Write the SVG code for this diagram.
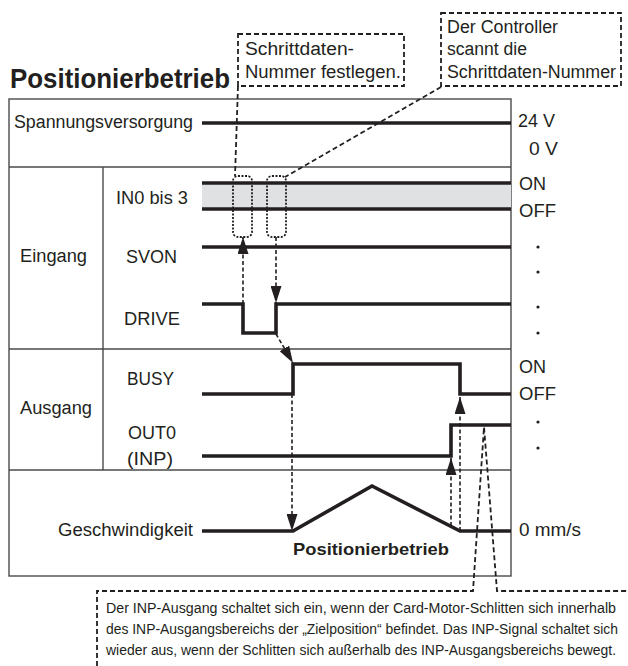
<svg xmlns="http://www.w3.org/2000/svg" width="628" height="666" viewBox="0 0 628 666">
<defs>
<marker id="ah" markerUnits="userSpaceOnUse" markerWidth="17" markerHeight="11" refX="17" refY="5.5" orient="auto">
<path d="M0,0 L17,5.5 L0,11 z" fill="#231f20"/>
</marker>
<style>
text{font-family:"Liberation Sans",Arial,sans-serif;font-size:18px;fill:#231f20}
.b{font-weight:bold}
.frame{stroke:#4a4a4a;stroke-width:1.4;fill:none}
.sig{stroke:#231f20;stroke-width:3.6;fill:none;stroke-linejoin:miter}
.dash{stroke:#231f20;stroke-width:1.8;fill:none;stroke-dasharray:5,3}
.dot{stroke:#231f20;stroke-width:1.8;fill:none;stroke-dasharray:2,1.5}
.arr{stroke:#231f20;stroke-width:1.6;fill:none;stroke-dasharray:4,2.5;marker-end:url(#ah)}
.small{font-size:14px}
</style>
</defs>
<text class="b" x="10" y="88" style="font-size:28px" textLength="220" lengthAdjust="spacingAndGlyphs">Positionierbetrieb</text>

<g id="frame">
<rect class="frame" x="9" y="99" width="502" height="477"/>
<line class="frame" x1="9" y1="167" x2="511" y2="167"/>
<line class="frame" x1="9" y1="349" x2="511" y2="349"/>
<line class="frame" x1="9" y1="470" x2="511" y2="470"/>
<line class="frame" x1="103" y1="167" x2="103" y2="470"/>
</g>

<g id="power">
<text x="14" y="128" textLength="179" lengthAdjust="spacingAndGlyphs">Spannungsversorgung</text>
<line class="sig" x1="202" y1="123" x2="511" y2="123"/>
<text x="518" y="127" textLength="37" lengthAdjust="spacingAndGlyphs">24 V</text>
<text x="529" y="155" textLength="29" lengthAdjust="spacingAndGlyphs">0 V</text>
</g>

<g id="eingang">
<text x="20" y="262" textLength="67" lengthAdjust="spacingAndGlyphs">Eingang</text>
</g>

<g id="in0">
<text x="116" y="204" textLength="72" lengthAdjust="spacingAndGlyphs">IN0 bis 3</text>
<rect x="202" y="183" width="309" height="26" fill="#e0e1e3"/>
<line class="sig" x1="202" y1="183" x2="511" y2="183"/>
<line class="sig" x1="202" y1="209" x2="511" y2="209"/>
<text x="519" y="190" textLength="27" lengthAdjust="spacingAndGlyphs">ON</text>
<text x="519" y="217" textLength="37" lengthAdjust="spacingAndGlyphs">OFF</text>
</g>

<g id="svon">
<text x="126" y="263" textLength="51" lengthAdjust="spacingAndGlyphs">SVON</text>
<line class="sig" x1="202" y1="247" x2="511" y2="247"/>
<circle cx="538" cy="247" r="1.6" fill="#231f20"/>
<circle cx="538" cy="272" r="1.6" fill="#231f20"/>
</g>

<g id="drive">
<text x="124" y="325" textLength="56" lengthAdjust="spacingAndGlyphs">DRIVE</text>
<polyline class="sig" points="202,304 243,304 243,333 276,333 276,304 511,304"/>
<circle cx="538" cy="307" r="1.6" fill="#231f20"/>
<circle cx="538" cy="333" r="1.6" fill="#231f20"/>
</g>

<g id="ausgang">
<text x="20" y="414" textLength="72" lengthAdjust="spacingAndGlyphs">Ausgang</text>
</g>

<g id="busy">
<text x="127" y="385" textLength="47" lengthAdjust="spacingAndGlyphs">BUSY</text>
<polyline class="sig" points="202,394 293,394 293,364 460,364 460,394 511,394"/>
<text x="519" y="373" textLength="27" lengthAdjust="spacingAndGlyphs">ON</text>
<text x="519" y="400" textLength="37" lengthAdjust="spacingAndGlyphs">OFF</text>
</g>

<g id="out0">
<text x="128" y="439" textLength="48" lengthAdjust="spacingAndGlyphs">OUT0</text>
<text x="127" y="465" textLength="46" lengthAdjust="spacingAndGlyphs">(INP)</text>
<polyline class="sig" points="202,456 451,456 451,425 511,425"/>
<circle cx="538" cy="422" r="1.6" fill="#231f20"/>
<circle cx="538" cy="448" r="1.6" fill="#231f20"/>
</g>

<g id="speed">
<text x="58" y="536" textLength="135" lengthAdjust="spacingAndGlyphs">Geschwindigkeit</text>
<polyline class="sig" points="202,531 293,531 372,486 460,531 511,531"/>
<text x="519" y="536" textLength="62" lengthAdjust="spacingAndGlyphs">0 mm/s</text>
<text class="b" x="293" y="555" style="font-size:17px" textLength="156" lengthAdjust="spacingAndGlyphs">Positionierbetrieb</text>
</g>

<g id="callout1">
<rect class="dash" x="238" y="34" width="166" height="52"/>
<text x="245" y="55" textLength="109" lengthAdjust="spacingAndGlyphs">Schrittdaten-</text>
<text x="245" y="78" textLength="156" lengthAdjust="spacingAndGlyphs">Nummer festlegen.</text>
</g>

<g id="callout2">
<rect class="dash" x="441" y="13" width="180" height="73"/>
<text x="447" y="33" textLength="111" lengthAdjust="spacingAndGlyphs">Der Controller</text>
<text x="447" y="55" textLength="80" lengthAdjust="spacingAndGlyphs">scannt die</text>
<text x="447" y="78" textLength="169" lengthAdjust="spacingAndGlyphs">Schrittdaten-Nummer</text>
</g>

<g id="marker-boxes">
<rect class="dot" x="233" y="176" width="19" height="61" rx="5"/>
<rect class="dot" x="267" y="176" width="19" height="61" rx="5"/>
</g>

<g id="note">
<text class="small" x="106" y="613" textLength="510" lengthAdjust="spacingAndGlyphs">Der INP-Ausgang schaltet sich ein, wenn der Card-Motor-Schlitten sich innerhalb</text>
<text class="small" x="106" y="634" textLength="512" lengthAdjust="spacingAndGlyphs">des INP-Ausgangsbereichs der „Zielposition“ befindet. Das INP-Signal schaltet sich</text>
<text class="small" x="106" y="655" textLength="510" lengthAdjust="spacingAndGlyphs">wieder aus, wenn der Schlitten sich außerhalb des INP-Ausgangsbereichs bewegt.</text>
</g>

<g id="connectors">
<polyline class="dash" points="238,86 235,176"/>
<line class="dash" x1="441" y1="87" x2="285" y2="177"/>
<line class="arr" x1="243" y1="304" x2="243" y2="237"/>
<line class="arr" x1="276" y1="237" x2="276" y2="303"/>
<line class="arr" x1="276" y1="334" x2="293" y2="363"/>
<line class="arr" x1="292" y1="394" x2="292" y2="531"/>
<line class="arr" x1="451" y1="526" x2="451" y2="458"/>
<line class="arr" x1="460" y1="531" x2="460" y2="397"/>
<polyline class="dash" points="97,666 97,591 473,591 484,427 497,591 628,591"/>
</g>
</svg>
